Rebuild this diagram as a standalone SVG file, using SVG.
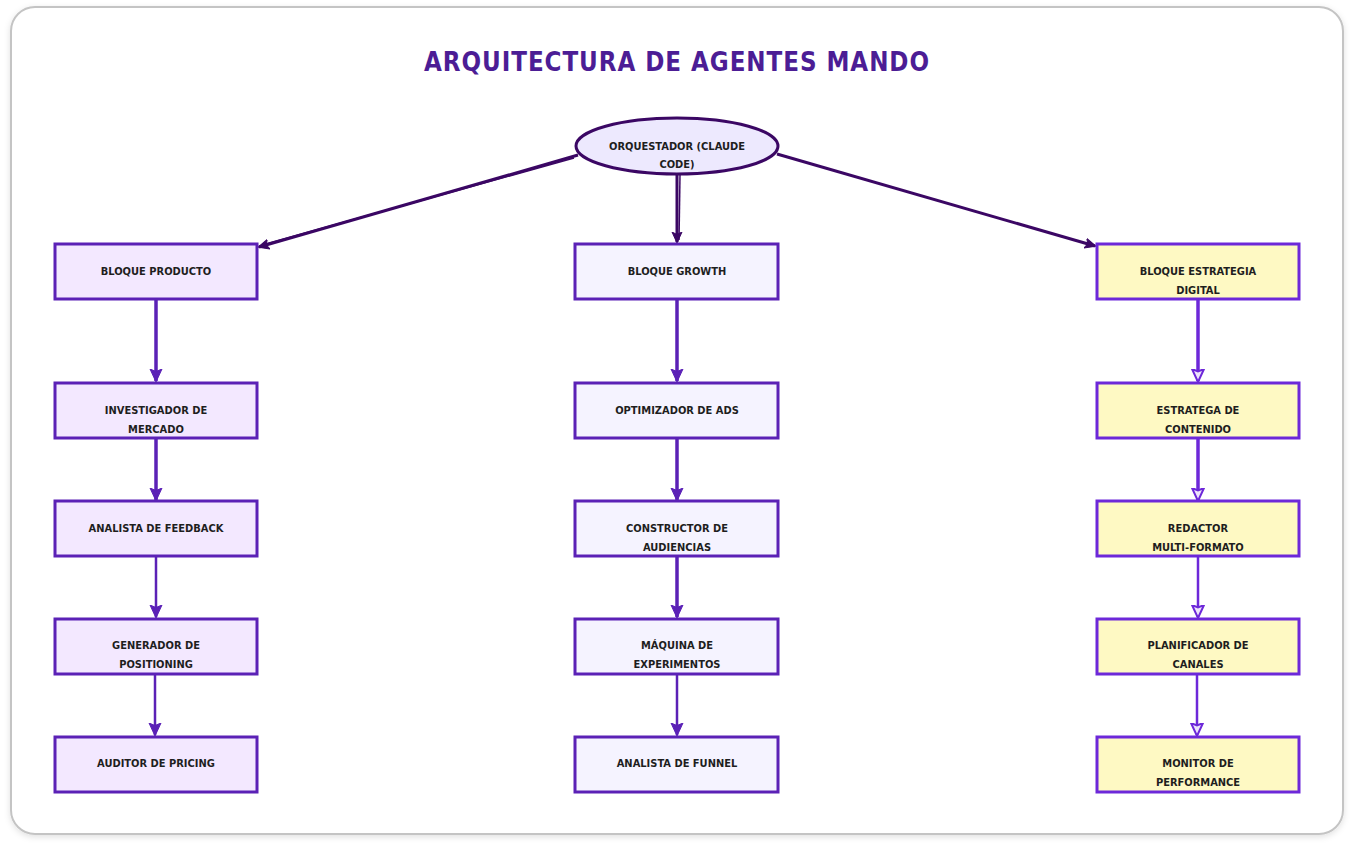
<svg xmlns="http://www.w3.org/2000/svg" width="1354" height="850" viewBox="0 0 1354 850">
<defs>
<filter id="sh" x="-5%" y="-5%" width="110%" height="110%"><feDropShadow dx="0" dy="2" stdDeviation="3" flood-color="#000" flood-opacity="0.12"/></filter>
<marker id="ahTop" markerWidth="12" markerHeight="12" refX="10" refY="6" orient="auto" markerUnits="userSpaceOnUse" viewBox="0 0 12 12"><path d="M0,1 L11,6 L0,11 L2.5,6 Z" fill="#3b0764" stroke="#3b0764" stroke-width="1"/></marker>
<marker id="ahL" markerWidth="14" markerHeight="14" refX="12" refY="7" orient="auto" markerUnits="userSpaceOnUse" viewBox="0 0 14 14"><path d="M0,1 L13,7 L0,13 L2.5,7 Z" fill="#5b21b6" stroke="#5b21b6" stroke-width="1"/></marker>
<marker id="ahR" markerWidth="14" markerHeight="14" refX="12" refY="7" orient="auto" markerUnits="userSpaceOnUse" viewBox="0 0 14 14"><path d="M0,1 L13,7 L0,13 L2.5,7 Z" fill="#ede4fb" stroke="#6d28d9" stroke-width="2"/></marker>
</defs>
<style>
.t{font-family:"DejaVu Sans Condensed","DejaVu Sans",sans-serif;font-size:11px;font-weight:bold;fill:#1e1e1e;text-anchor:middle;font-stretch:condensed}
.title{font-family:"DejaVu Sans Condensed","DejaVu Sans",sans-serif;font-size:27px;font-weight:bold;fill:#4c1d95;text-anchor:middle;letter-spacing:1px}
.bp{fill:#f3e8ff;stroke:#5b21b6;stroke-width:3}
.bg{fill:#f5f3ff;stroke:#5b21b6;stroke-width:3}
.bs{fill:#fef9c3;stroke:#6d28d9;stroke-width:3}
.ct{fill:none;stroke:#3b0764;stroke-width:3;marker-end:url(#ahTop)}
.cl{fill:none;stroke:#5b21b6;stroke-width:3.5;marker-end:url(#ahL)}
.cl2{fill:none;stroke:#5b21b6;stroke-width:2.5;marker-end:url(#ahL)}
.cr{fill:none;stroke:#6d28d9;stroke-width:3.5;marker-end:url(#ahR)}
.cr2{fill:none;stroke:#6d28d9;stroke-width:2.5;marker-end:url(#ahR)}
</style>
<rect x="11" y="7" width="1332" height="827" rx="24" fill="#fff" stroke="#c4c4c4" stroke-width="2" filter="url(#sh)"/>
<text class="title" x="677" y="71" textLength="506" lengthAdjust="spacingAndGlyphs">ARQUITECTURA DE AGENTES MANDO</text>

<g id="connectors">
<path class="ct" d="M578,155 L259,247"/>
<path d="M574,158 L262,245" fill="none" stroke="#3b0764" stroke-width="1.5"/>
<path class="ct" d="M677,175 L677,242"/>
<path d="M680,175 L679,240" fill="none" stroke="#3b0764" stroke-width="1.5"/>
<path class="ct" d="M777,154 L1095,246"/>

<path class="cl" d="M156,300 L156,381"/>
<path class="cl" d="M156,439 L156,500"/>
<path class="cl2" d="M156,557 L156,617"/>
<path class="cl2" d="M155,675 L155,735"/>

<path class="cl" d="M677,300 L677,381"/>
<path class="cl" d="M677,439 L677,500"/>
<path class="cl" d="M677,557 L677,617"/>
<path class="cl2" d="M677,675 L677,735"/>

<path class="cr" d="M1198,300 L1198,381"/>
<path class="cr" d="M1198,439 L1198,500"/>
<path class="cr2" d="M1198,557 L1198,617"/>
<path class="cr2" d="M1197,675 L1197,735"/>
</g>

<g id="orquestador">
<ellipse cx="677" cy="146" rx="101" ry="28" fill="#ede9fe" stroke="#3b0764" stroke-width="3"/>
<text class="t" x="677" y="150">ORQUESTADOR (CLAUDE</text>
<text class="t" x="677" y="168">CODE)</text>
</g>

<g id="bloque-producto"><rect class="bp" x="55" y="244" width="202" height="55"/><text class="t" x="156" y="275">BLOQUE PRODUCTO</text></g>
<g id="investigador"><rect class="bp" x="55" y="383" width="202" height="55"/><text class="t" x="156" y="414">INVESTIGADOR DE</text><text class="t" x="156" y="433">MERCADO</text></g>
<g id="analista-feedback"><rect class="bp" x="55" y="501" width="202" height="55"/><text class="t" x="156" y="532">ANALISTA DE FEEDBACK</text></g>
<g id="generador"><rect class="bp" x="55" y="619" width="202" height="55"/><text class="t" x="156" y="649">GENERADOR DE</text><text class="t" x="156" y="668">POSITIONING</text></g>
<g id="auditor"><rect class="bp" x="55" y="737" width="202" height="55"/><text class="t" x="156" y="767">AUDITOR DE PRICING</text></g>

<g id="bloque-growth"><rect class="bg" x="575" y="244" width="203" height="55"/><text class="t" x="677" y="275">BLOQUE GROWTH</text></g>
<g id="optimizador"><rect class="bg" x="575" y="383" width="203" height="55"/><text class="t" x="677" y="414">OPTIMIZADOR DE ADS</text></g>
<g id="constructor"><rect class="bg" x="575" y="501" width="203" height="55"/><text class="t" x="677" y="532">CONSTRUCTOR DE</text><text class="t" x="677" y="551">AUDIENCIAS</text></g>
<g id="maquina"><rect class="bg" x="575" y="619" width="203" height="55"/><text class="t" x="677" y="649">MÁQUINA DE</text><text class="t" x="677" y="668">EXPERIMENTOS</text></g>
<g id="analista-funnel"><rect class="bg" x="575" y="737" width="203" height="55"/><text class="t" x="677" y="767">ANALISTA DE FUNNEL</text></g>

<g id="bloque-estrategia"><rect class="bs" x="1097" y="244" width="202" height="55"/><text class="t" x="1198" y="275">BLOQUE ESTRATEGIA</text><text class="t" x="1198" y="294">DIGITAL</text></g>
<g id="estratega"><rect class="bs" x="1097" y="383" width="202" height="55"/><text class="t" x="1198" y="414">ESTRATEGA DE</text><text class="t" x="1198" y="433">CONTENIDO</text></g>
<g id="redactor"><rect class="bs" x="1097" y="501" width="202" height="55"/><text class="t" x="1198" y="532">REDACTOR</text><text class="t" x="1198" y="551">MULTI-FORMATO</text></g>
<g id="planificador"><rect class="bs" x="1097" y="619" width="202" height="55"/><text class="t" x="1198" y="649">PLANIFICADOR DE</text><text class="t" x="1198" y="668">CANALES</text></g>
<g id="monitor"><rect class="bs" x="1097" y="737" width="202" height="55"/><text class="t" x="1198" y="767">MONITOR DE</text><text class="t" x="1198" y="786">PERFORMANCE</text></g>
</svg>
